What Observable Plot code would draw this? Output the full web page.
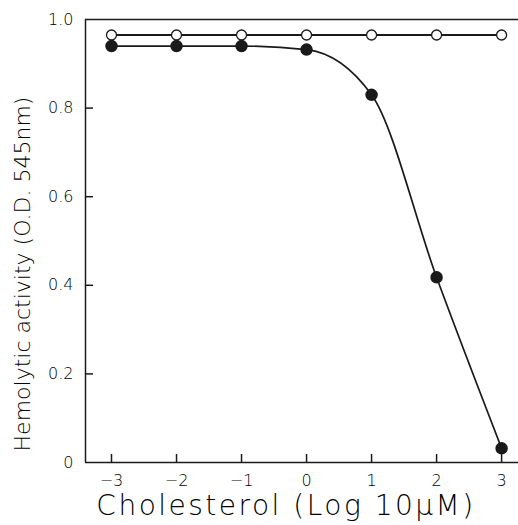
<!DOCTYPE html>
<html>
<head>
<meta charset="utf-8">
<script src="https://cdn.jsdelivr.net/npm/d3@7"></script>
<script src="https://cdn.jsdelivr.net/npm/@observablehq/plot@0.6"></script>
<style>
  html, body { margin: 0; padding: 0; background: #fff; }
  #chart svg { display: block; }
</style>
</head>
<body>
<div id="chart"></div>
<script>
const logConc = [-3, -2, -1, 0, 1, 2, 3];
const controlActivity = [0.965, 0.965, 0.965, 0.965, 0.965, 0.965, 0.965];
const treatedActivity = [0.940, 0.940, 0.940, 0.932, 0.830, 0.418, 0.032];
const xTicks = [-3, -2, -1, 0, 1, 2, 3];
const xTickLabels = ["\u22123", "\u22122", "\u22121", "0", "1", "2", "3"];
const yTicks = [0, 0.2, 0.4, 0.6, 0.8, 1.0];
const yTickLabels = ["0", "0.2", "0.4", "0.6", "0.8", "1.0"];
const xTitle = "Cholesterol (Log 10\u03bcM)";
const yTitle = "Hemolytic activity (O.D. 545nm)";

const control = logConc.map((x, i) => ({x, y: controlActivity[i]}));
const treated = logConc.map((x, i) => ({x, y: treatedActivity[i]}));
const font = "'DejaVu Sans', sans-serif";
const ink = "#1a1a1a";
const xDomain = [-3.4, 3.26];
const yDomain = [0, 1];
const W = 518, H = 525, mL = 85, mT = 19, mB = 63, mR = 0, tick = 8;
// tick length converted from pixels to data units
const tickX = tick * (yDomain[1] - yDomain[0]) / (H - mT - mB);
const tickY = tick * (xDomain[1] - xDomain[0]) / (W - mL - mR);

const chart = Plot.plot({
  width: W,
  height: H,
  marginLeft: mL,
  marginTop: mT,
  marginBottom: mB,
  marginRight: mR,
  style: {fontFamily: font, background: "#fff", color: ink},
  x: {domain: xDomain},
  y: {domain: yDomain},
  marks: [
    Plot.ruleY([0, 1], {stroke: ink, strokeWidth: 1.5}),
    Plot.ruleX([xDomain[0]], {stroke: ink, strokeWidth: 1.5}),
    Plot.axisX({ticks: xTicks, tickFormat: d => xTickLabels[xTicks.indexOf(d)], tickSize: 0, tickPadding: 12, fontSize: 16, fontWeight: 200, fill: "#000", label: null}),
    Plot.axisY({ticks: yTicks, tickFormat: d => yTickLabels[yTicks.indexOf(d)], tickSize: 0, tickPadding: 12, fontSize: 16, fontWeight: 200, fill: "#000", label: null}),
    Plot.ruleX(xTicks, {x: d => d, y1: yDomain[0], y2: yDomain[0] + tickX, stroke: ink, strokeWidth: 1.5}),
    Plot.ruleY(yTicks.slice(1, -1), {y: d => d, x1: xDomain[0], x2: xDomain[0] + tickY, stroke: ink, strokeWidth: 1.5}),
    Plot.line(control, {x: "x", y: "y", stroke: ink, strokeWidth: 2}),
    Plot.line(treated, {x: "x", y: "y", stroke: ink, strokeWidth: 1.7, curve: "monotone-x"}),
    Plot.dot(control, {x: "x", y: "y", r: 5, fill: "#fff", stroke: ink, strokeWidth: 1.3}),
    Plot.dot(treated, {x: "x", y: "y", r: 5.5, fill: ink, stroke: ink}),
    Plot.text([xTitle], {frameAnchor: "bottom", lineAnchor: "middle", dy: 44, dx: -16, fontSize: 28, fontWeight: 200, fill: "#000"}),
    Plot.text([yTitle], {frameAnchor: "left", textAnchor: "middle", lineAnchor: "middle", dx: -63, dy: 33, rotate: -90, fontSize: 22, fontWeight: 200, fill: "#000"})
  ]
});
d3.select(chart).selectAll("text").filter(function() { return this.textContent === xTitle; }).style("letter-spacing", "2.5px");
document.getElementById("chart").append(chart);
</script>
</body>
</html>
